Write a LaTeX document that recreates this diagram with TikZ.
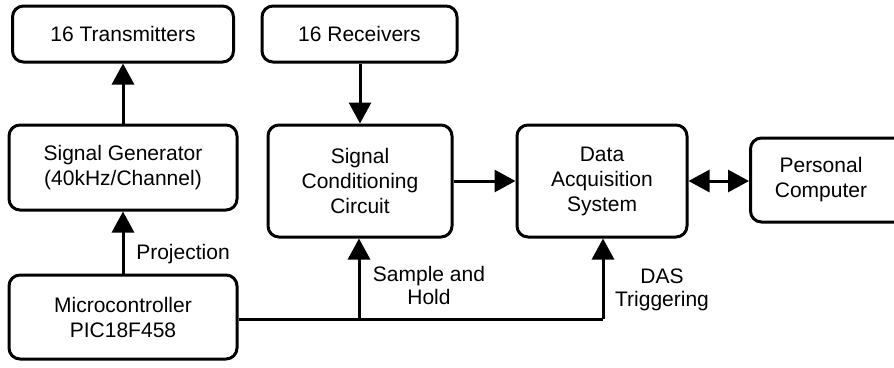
\documentclass[tikz,border=0pt]{standalone}
\usepackage{fontspec}
\setmainfont{Liberation Sans}
\usetikzlibrary{arrows.meta}
\begin{document}
\begin{tikzpicture}[x=1pt,y=-1pt,
  blk/.style={draw=black,line width=3pt,rounded corners=11pt,fill=white,align=center,
    inner sep=0pt,font=\fontsize{21}{25}\selectfont},
  lbl/.style={align=center,font=\fontsize{21}{23}\selectfont,inner sep=0pt},
  conn/.style={line width=3pt,-{Triangle[length=21pt,width=22pt]}},
  line/.style={line width=3pt}]
\useasboundingbox (0,0) rectangle (894,367);
\node[blk,minimum width=221pt,minimum height=56pt] (tx) at (123,34) {16 Transmitters};
\node[blk,minimum width=195pt,minimum height=56pt] (rx) at (359.5,34) {16 Receivers};
\node[blk,minimum width=228pt,minimum height=85pt] (sg) at (123,167.5) {Signal Generator\\(40kHz/Channel)};
\node[blk,minimum width=184pt,minimum height=112pt] (scc) at (360,181) {Signal\\Conditioning\\Circuit};
\node[blk,minimum width=170pt,minimum height=112pt] (das) at (602,181) {Data\\Acquisition\\System};
\node[blk,minimum width=170pt,minimum height=84pt,anchor=west] (pc) at (749,180) {};
\node[lbl,font=\fontsize{21}{25}\selectfont] (pct) at (821,180) {Personal\\Computer};
\node[blk,minimum width=228pt,minimum height=84pt] (mc) at (123,317) {Microcontroller\\PIC18F458};
\node[lbl] (proj) at (183,254) {Projection};
\node[lbl] (sh) at (429,285) {Sample and\\Hold};
\node[lbl] (dt) at (662,290) {DAS\\Triggering};
\coordinate (j1) at (359,319);
\coordinate (j2) at (603,319);
\draw[conn] (sg.north) -- (tx.south);
\draw[conn] (rx.south -| scc.north) -- (scc.north);
\draw[conn] (scc.east |- 0,181) -- (das.west |- 0,181);
\draw[line width=3pt,{Triangle[length=21pt,width=22pt]}-{Triangle[length=21pt,width=22pt]}] (das.east |- 0,181) -- (pc.west |- 0,181);
\draw[conn] (mc.north) -- (sg.south);
\draw[line] (mc.east |- j1) -- (j2);
\draw[conn] (j1) -- (j1 |- scc.south);
\draw[conn] (j2) -- (j2 |- das.south);
\end{tikzpicture}
\end{document}
